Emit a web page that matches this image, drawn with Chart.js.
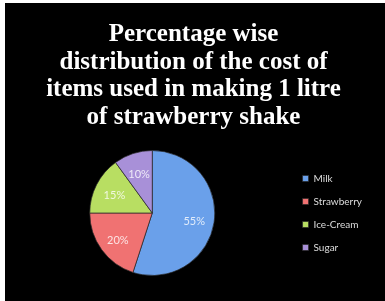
<!DOCTYPE html>
<html>
<head>
<meta charset="utf-8">
<script src="https://cdn.jsdelivr.net/npm/chart.js@4.4.1/dist/chart.umd.min.js"></script>
<style>
  html, body { margin: 0; padding: 0; background: #fff; }
  #wrap { position: absolute; left: 5px; top: 3px; width: 380px; height: 298px; background: #000; }
</style>
</head>
<body>
<div id="wrap"><canvas id="cost-chart" width="380" height="298"></canvas></div>
<script>
const titleLines = [
  'Percentage wise',
  'distribution of the cost of',
  'items used in making 1 litre',
  'of strawberry shake'
];
const items = ['Milk', 'Strawberry', 'Ice-Cream', 'Sugar'];
const shares = [55, 20, 15, 10];
const sliceColors = ['#6aa0ea', '#f07272', '#b8de62', '#a890d8'];

// percent labels inside each slice
const sliceLabels = {
  id: 'sliceLabels',
  afterDatasetsDraw(chart) {
    const ctx = chart.ctx;
    const meta = chart.getDatasetMeta(0);
    ctx.save();
    ctx.font = '11px Lato';
    ctx.fillStyle = 'rgba(255,255,255,0.8)';
    ctx.textAlign = 'center';
    ctx.textBaseline = 'middle';
    meta.data.forEach((arc, i) => {
      const mid = (arc.startAngle + arc.endAngle) / 2;
      const r = arc.outerRadius * 0.68;
      ctx.fillText(shares[i] + '%', arc.x + Math.cos(mid) * r, arc.y + Math.sin(mid) * r + 2);
    });
    ctx.restore();
  }
};

new Chart(document.getElementById('cost-chart').getContext('2d'), {
  type: 'pie',
  data: {
    labels: items,
    datasets: [{
      data: shares,
      backgroundColor: sliceColors,
      borderColor: 'rgba(40,40,40,0.7)',
      borderWidth: 1
    }]
  },
  options: {
    responsive: false,
    animation: false,
    layout: { padding: { left: 10, right: 13, top: 0, bottom: 25 } },
    plugins: {
      title: {
        display: true,
        text: titleLines,
        color: '#fff',
        font: { family: 'Liberation Serif', size: 25, weight: 'bold', lineHeight: 1.1 },
        padding: { top: 18, bottom: 19 }
      },
      legend: {
        position: 'right',
        fullSize: false,
        labels: {
          color: '#ddd',
          boxWidth: 6,
          boxHeight: 6,
          padding: 13,
          font: { family: 'Lato', size: 10 }
        }
      },
      tooltip: { enabled: false }
    }
  },
  plugins: [sliceLabels]
});
</script>
</body>
</html>
